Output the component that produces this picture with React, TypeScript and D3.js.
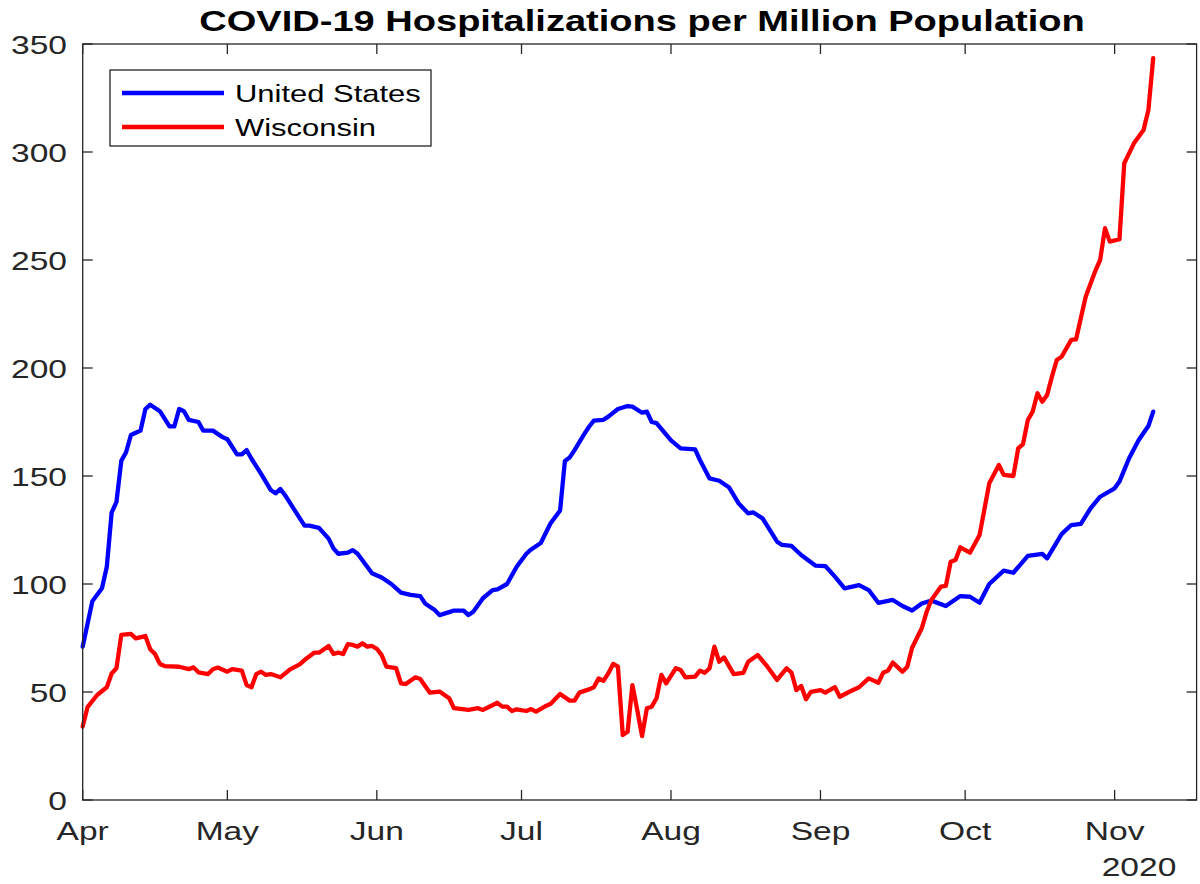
import React from "react";
import * as d3 from "d3";

// ---- data ----
const usDates = ["04-01","04-03","04-05","04-06","04-07","04-08","04-09","04-10","04-11","04-12","04-13","04-14","04-15","04-17","04-19","04-20","04-21","04-22","04-23","04-25","04-26","04-28","04-30","05-01","05-03","05-04","05-05","05-06","05-08","05-10","05-11","05-12","05-13","05-15","05-17","05-18","05-20","05-22","05-23","05-24","05-26","05-27","05-28","05-30","05-31","06-02","06-04","06-06","06-08","06-10","06-11","06-13","06-14","06-16","06-17","06-19","06-20","06-21","06-23","06-25","06-26","06-28","06-30","07-02","07-03","07-05","07-07","07-09","07-10","07-11","07-12","07-14","07-15","07-16","07-18","07-19","07-21","07-23","07-24","07-26","07-27","07-28","07-29","08-01","08-03","08-06","08-07","08-09","08-11","08-13","08-15","08-17","08-18","08-20","08-23","08-24","08-26","08-28","08-31","09-02","09-04","09-06","09-09","09-11","09-13","09-16","09-18","09-20","09-22","09-24","09-27","09-30","10-02","10-04","10-06","10-09","10-11","10-14","10-17","10-18","10-21","10-23","10-25","10-27","10-29","11-01","11-02","11-04","11-06","11-08","11-09"];
const usValues = [71,92,98,108,133,138,157,161,169,170,171,181,183,180,173,173,181,180,176,175,171,171,168,167,160,160,162,158,151,143.5,142,144,141,134,127,127,126,121,116.5,114,114.5,115.7,114,108,105,103,100,96,95,94.4,91,88,85.6,87,87.7,87.7,85.6,87.2,93.4,97.2,97.5,100,108,114,116,119,128,134,157,158.6,162,169.4,172.8,175.6,176,177.5,181,182.4,182.1,179.3,179.8,175,174.5,166.5,162.8,162.3,157.4,148.9,147.8,144.8,137.4,132.7,133.2,130.4,119.6,118.1,117.6,113.4,108.5,108.3,103.4,98,99.5,97.2,91.3,92.6,89.8,87.7,91,92.3,89.8,94.4,94.1,91.3,100,106.2,105.2,113,113.9,111.9,123.1,127.3,127.8,135,140.4,144.3,147.4,158.2,166.7,173.1,179.8];

const wiDates = ["04-01","04-02","04-04","04-06","04-07","04-08","04-09","04-11","04-12","04-14","04-15","04-16","04-17","04-18","04-21","04-23","04-24","04-25","04-27","04-28","04-29","05-01","05-02","05-04","05-05","05-06","05-07","05-08","05-09","05-10","05-12","05-14","05-16","05-17","05-19","05-20","05-22","05-23","05-24","05-25","05-26","05-27","05-28","05-29","05-30","05-31","06-01","06-02","06-03","06-05","06-06","06-07","06-09","06-10","06-12","06-14","06-16","06-17","06-20","06-22","06-23","06-26","06-27","06-28","06-29","06-30","07-02","07-03","07-04","07-06","07-07","07-09","07-11","07-12","07-13","07-15","07-16","07-17","07-18","07-19","07-20","07-21","07-22","07-23","07-24","07-25","07-26","07-27","07-28","07-29","07-30","07-31","08-02","08-03","08-04","08-06","08-07","08-08","08-09","08-10","08-11","08-12","08-14","08-16","08-17","08-19","08-21","08-23","08-25","08-26","08-27","08-28","08-29","08-30","09-01","09-02","09-04","09-05","09-07","09-09","09-11","09-13","09-14","09-15","09-16","09-18","09-19","09-20","09-22","09-23","09-24","09-26","09-27","09-28","09-29","09-30","10-02","10-04","10-06","10-08","10-09","10-11","10-12","10-13","10-14","10-15","10-16","10-17","10-18","10-19","10-20","10-21","10-23","10-24","10-26","10-28","10-29","10-30","10-31","11-02","11-03","11-05","11-07","11-08","11-09"];
const wiValues = [34,43,48.6,52.2,58.6,61,76.4,76.9,74.8,75.9,69.8,67.6,63,62,61.7,60.6,61.4,59.1,58.3,60.5,61.3,59.4,60.6,59.9,53.2,52.2,58.3,59.4,57.9,58.3,56.8,60.5,62.8,64.8,68.2,68.2,71.3,67.6,68.2,67.6,72.2,71.8,71,72.5,71,71.3,70,67.1,61.7,61,54,53.7,56.8,56,49.7,50.2,47.1,42.5,41.7,42.5,41.7,45,43.2,43.2,41.2,42,41.2,42.1,40.9,43.5,44.4,49.1,46,46,49.7,51.2,52.2,56.3,55.2,58.6,63,61.7,30.1,31.6,53.2,41.7,29.6,42.5,43.2,47.1,57.9,54,61,60.2,56.8,57.1,59.9,58.9,61,71,64,66,58.3,58.9,64,67.1,61.7,55.6,61,58.9,50.9,52.8,46.6,50.1,50.9,49.7,52.2,47.8,50.1,52.2,56.3,54.3,58.9,59.9,63.6,59.4,61.7,70.5,79.5,87,92.6,98.8,99.1,110.3,111.1,117,114.5,122.7,146.6,155.1,150.5,150,162.8,164.8,175.9,179.8,188.3,184.4,187.5,196,203.7,205.2,213,213.3,233,245,250,264.7,258.5,259.6,294.8,304,310.2,319.4,343.4];

const yTickValues = [0, 50, 100, 150, 200, 250, 300, 350];
const seriesNames = ["United States", "Wisconsin"];
const seriesColors = ["#0000FF", "#FF0000"];
const titleText = "COVID-19 Hospitalizations per Million Population";
const yearLabel = "2020";
const xStart = "2020-04-01";
const xEnd = "2020-11-18";

// ---- layout ----
const W = 1200, H = 884;
const L = 82.7, R = 1196.6, T = 44, B = 800;
const SX = 1.29; // horizontal stretch of text in the reference
const FONT = "'Liberation Sans', Arial, Helvetica, sans-serif";
const AX = "#262626";

const parse = d3.timeParse("%Y-%m-%d");
const toDate = (md: string) => parse("2020-" + md) as Date;

function SText(props: { x: number; y: number; anchor?: string; size: number; weight?: string; fill?: string; children: any }) {
  const { x, y, anchor = "start", size, weight = "normal", fill = AX, children } = props;
  return (
    <g transform={`translate(${x},${y}) scale(${SX},1)`}>
      <text textAnchor={anchor as any} fontSize={size} fontWeight={weight} fill={fill} fontFamily={FONT}>
        {children}
      </text>
    </g>
  );
}

export default function App() {
  const x = d3.scaleTime().domain([parse(xStart) as Date, parse(xEnd) as Date]).range([L, R]);
  const y = d3.scaleLinear().domain([0, 350]).range([B, T]);
  const line = d3
    .line<[Date, number]>()
    .x((d) => x(d[0]))
    .y((d) => y(d[1]));

  const us: [Date, number][] = usDates.map((d, i) => [toDate(d), usValues[i]]);
  const wi: [Date, number][] = wiDates.map((d, i) => [toDate(d), wiValues[i]]);
  const months = d3.timeMonth.range(parse(xStart) as Date, parse(xEnd) as Date);
  const fmt = d3.timeFormat("%b");
  const tl = 10;

  return (
    <svg width={W} height={H} style={{ position: "absolute", left: 0, top: 0, background: "#fff" }}>
      <rect x={0} y={0} width={W} height={H} fill="#fff" />
      {/* data */}
      <path d={line(us) || ""} fill="none" stroke={seriesColors[0]} strokeWidth={4.3} strokeLinejoin="round" strokeLinecap="round" />
      <path d={line(wi) || ""} fill="none" stroke={seriesColors[1]} strokeWidth={4.3} strokeLinejoin="round" strokeLinecap="round" />

      {/* axes box */}
      <rect x={L} y={T} width={R - L} height={B - T} fill="none" stroke={AX} strokeWidth={1.3} />
      {months.map((m, i) => (
        <g key={"mx" + i}>
          <line x1={x(m)} x2={x(m)} y1={B} y2={B - tl} stroke={AX} strokeWidth={1.3} />
          <line x1={x(m)} x2={x(m)} y1={T} y2={T + tl} stroke={AX} strokeWidth={1.3} />
          <SText x={x(m)} y={840} anchor="middle" size={26}>{fmt(m)}</SText>
        </g>
      ))}
      <SText x={1139} y={876} anchor="middle" size={26}>{yearLabel}</SText>
      {yTickValues.map((v) => (
        <g key={"y" + v}>
          <line x1={L} x2={L + tl} y1={y(v)} y2={y(v)} stroke={AX} strokeWidth={1.3} />
          <line x1={R} x2={R - tl} y1={y(v)} y2={y(v)} stroke={AX} strokeWidth={1.3} />
          <SText x={67} y={y(v) + 9.5} anchor="end" size={26}>{v}</SText>
        </g>
      ))}

      {/* title */}
      <SText x={642} y={31} anchor="middle" size={29.5} weight="bold" fill="#000">{titleText}</SText>

      {/* legend */}
      <rect x={110} y={70} width={321} height={76} fill="#fff" stroke={AX} strokeWidth={1.3} />
      {seriesNames.map((n, i) => (
        <g key={n}>
          <line x1={122} x2={224} y1={93 + i * 34} y2={93 + i * 34} stroke={seriesColors[i]} strokeWidth={4.3} />
          <SText x={235} y={101.5 + i * 34} size={24} fill="#000">{n}</SText>
        </g>
      ))}
    </svg>
  );
}
